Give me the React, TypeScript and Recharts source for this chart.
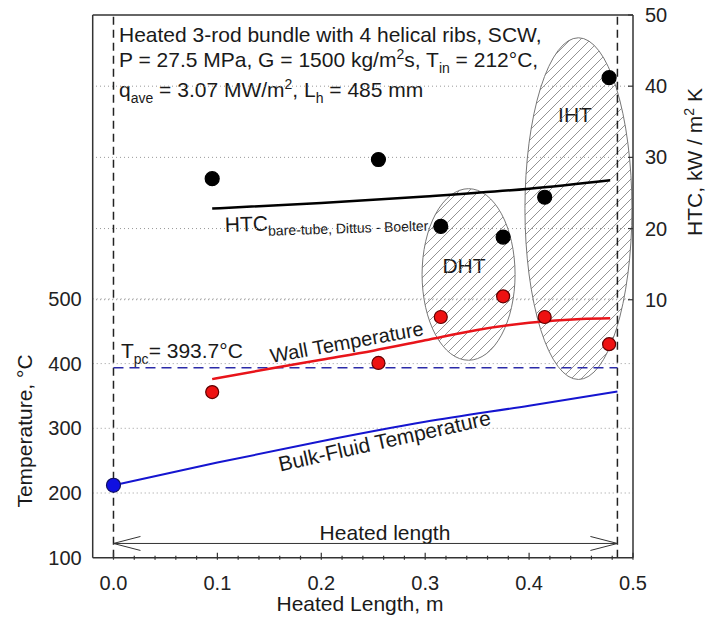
import {
  ComposedChart,
  Line,
  Scatter,
  XAxis,
  YAxis,
  ReferenceLine,
  ReferenceArea,
  Customized,
} from 'recharts'

const FONT = "'Liberation Sans', Arial, Helvetica, sans-serif"

// thermocouple positions along the heated length, m
const sensorX = [0.095, 0.255, 0.315, 0.375, 0.415, 0.477]
const htcMeasured = [27.0, 29.7, 20.3, 18.8, 24.4, 41.2]
const wallMeasured = [356, 401, 472, 504, 472, 430]

const inletX = [0]
const inletT = [212]

const bulkX = [0, 0.1, 0.2, 0.3, 0.4, 0.485]
const bulkT = [212, 247, 280, 310, 335, 357]

const wallLineX = [0.095, 0.15, 0.2, 0.25, 0.3, 0.35, 0.4, 0.45, 0.478]
const wallLineT = [376, 392, 406, 420, 436, 452, 463, 469, 470]

const htcLineX = [0.095, 0.2, 0.3, 0.4, 0.478]
const htcLineV = [22.8, 23.6, 24.5, 25.6, 26.8]

const xTicks = [
  0, 0.02, 0.04, 0.06, 0.08, 0.1, 0.12, 0.14, 0.16, 0.18, 0.2, 0.22, 0.24,
  0.26, 0.28, 0.3, 0.32, 0.34, 0.36, 0.38, 0.4, 0.42, 0.44, 0.46, 0.48, 0.5,
]
const tempTicks = [100, 200, 300, 400, 500]
const htcTicks = [10, 20, 30, 40, 50]

const heatedLength = 0.485
const tPc = 393.7
const arrowT = 122

// deterioration / improvement zones (x in m, y in HTC units)
const zones = [
  { name: 'DHT', x1: 0.297, x2: 0.3865, y1: 1.5, y2: 25.6 },
  { name: 'IHT', x1: 0.396, x2: 0.499, y1: -1.2, y2: 46.8 },
]

const toPts = (xs: number[], ys: number[]) => xs.map((x, i) => ({ x, y: ys[i] }))

const htcPts = toPts(sensorX, htcMeasured)
const wallPts = toPts(sensorX, wallMeasured)
const inletPts = toPts(inletX, inletT)
const bulkPts = toPts(bulkX, bulkT)
const wallLinePts = toPts(wallLineX, wallLineT)
const htcLinePts = toPts(htcLineX, htcLineV)

function XTick(props: any) {
  const { x, y, payload } = props
  const v = payload.value
  const major = Math.abs(v * 10 - Math.round(v * 10)) < 1e-6
  return (
    <g>
      <line x1={x} x2={x} y1={y} y2={y - (major ? 7 : 4)} stroke="#333" strokeWidth={1.2} />
      {major && (
        <text x={x} y={y + 30} textAnchor="middle" fontSize={20} fill="#222" fontFamily={FONT}>
          {v.toFixed(1)}
        </text>
      )}
    </g>
  )
}

function RightTick(props: any) {
  const { x, y, payload } = props
  return (
    <g>
      <line x1={x - 5} x2={x} y1={y} y2={y} stroke="#333" strokeWidth={1.2} />
      <text x={x + 12} y={y} dy="0.35em" fontSize={20} fill="#222" fontFamily={FONT}>
        {payload.value}
      </text>
    </g>
  )
}

const dot = (fill: string, stroke: string, r: number) => (p: any) =>
  <circle cx={p.cx} cy={p.cy} r={r} fill={fill} stroke={stroke} strokeWidth={1.2} />

const ellipse = (p: any) => (
  <ellipse
    cx={p.x + p.width / 2}
    cy={p.y + p.height / 2}
    rx={p.width / 2}
    ry={p.height / 2}
    fill="url(#hatch)"
    stroke="#777"
    strokeWidth={1}
  />
)

const arrow = (p: any) => {
  const { x1, y1, x2, y2 } = p
  return (
    <g stroke="#333" strokeWidth={1} fill="none">
      <line x1={x1} y1={y1} x2={x2} y2={y2} />
      <polyline points={`${x1 + 27},${y1 - 7} ${x1},${y1} ${x1 + 27},${y1 + 7}`} />
      <polyline points={`${x2 - 27},${y2 - 7} ${x2},${y2} ${x2 - 27},${y2 + 7}`} />
    </g>
  )
}

function Annotations() {
  return (
    <g fontFamily={FONT} fill="#1a1a1a">
      <line x1={92.7} x2={633} y1={15} y2={15} stroke="#333" strokeWidth={1.5} />
      <text x={119} y={42} fontSize={21}>Heated 3-rod bundle with 4 helical ribs, SCW,</text>
      <text x={119} y={67} fontSize={21}>
        P = 27.5 MPa, G = 1500 kg/m
        <tspan fontSize={14} dy={-8}>2</tspan>
        <tspan dy={8}>s, T</tspan>
        <tspan fontSize={14} dy={6}>in</tspan>
        <tspan dy={-6}> = 212°C,</tspan>
      </text>
      <text x={119} y={97} fontSize={21}>
        q<tspan fontSize={14} dy={6}>ave</tspan>
        <tspan dy={-6}> = 3.07 MW/m</tspan>
        <tspan fontSize={14} dy={-8}>2</tspan>
        <tspan dy={8}>, L</tspan>
        <tspan fontSize={14} dy={6}>h</tspan>
        <tspan dy={-6}> = 485 mm</tspan>
      </text>

      <text x={121} y={358} fontSize={21}>
        T<tspan fontSize={14} dy={6}>pc</tspan>
        <tspan dy={-6}>= 393.7°C</tspan>
      </text>
      <text x={348} y={349} fontSize={20} textAnchor="middle" transform="rotate(-10.3 348 349)">
        Wall Temperature
      </text>
      <text x={386} y={448} fontSize={21} textAnchor="middle" transform="rotate(-12.5 386 448)">
        Bulk-Fluid Temperature
      </text>
      <text x={225} y={232} fontSize={21} transform="rotate(-1.8 225 232)">
        HTC<tspan fontSize={14} dy={5}>bare-tube, Dittus - Boelter</tspan>
      </text>
      <text x={464} y={273} fontSize={21} textAnchor="middle">DHT</text>
      <text x={575} y={122} fontSize={21} textAnchor="middle">IHT</text>
      <text x={385} y={540} fontSize={21} textAnchor="middle">Heated length</text>

      <text x={360} y={611} fontSize={21} textAnchor="middle">Heated Length, m</text>
      <text x={25} y={431} fontSize={21} textAnchor="middle" dy="0.35em" transform="rotate(-90 25 431)">
        Temperature, °C
      </text>
      <text x={695} y={162} fontSize={21} textAnchor="middle" dy="0.35em" transform="rotate(-90 695 162)">
        HTC, kW / m<tspan fontSize={14} dy={-8}>2</tspan>
        <tspan dy={8}> K</tspan>
      </text>
    </g>
  )
}

export default function App() {
  return (
    <div style={{ position: 'absolute', left: 0, top: 0, background: '#fff' }}>
      <ComposedChart width={712} height={622} margin={{ top: 15, right: 19, bottom: 24.3, left: 32.7 }}>
        <defs>
          <pattern id="hatch" patternUnits="userSpaceOnUse" width={10} height={10}>
            <path d="M-1,1 l2,-2 M0,10 l10,-10 M9,11 l2,-2" stroke="#777" strokeWidth={0.8} />
          </pattern>
        </defs>

        <XAxis
          type="number"
          dataKey="x"
          domain={[-0.02, 0.5]}
          ticks={xTicks}
          interval={0}
          tick={<XTick />}
          tickSize={0}
          tickLine={false}
          height={40}
          allowDataOverflow
          axisLine={{ stroke: '#333', strokeWidth: 1.5 }}
        />
        <YAxis
          yAxisId="t"
          dataKey="y"
          type="number"
          domain={[100, 938.8]}
          ticks={tempTicks}
          interval={0}
          width={60}
          tickSize={0}
          tickMargin={11}
          tickLine={false}
          allowDataOverflow
          tick={{ fontSize: 20, fill: '#222', fontFamily: FONT }}
          axisLine={{ stroke: '#333', strokeWidth: 1.5 }}
        />
        <YAxis
          yAxisId="h"
          orientation="right"
          dataKey="y"
          type="number"
          domain={[-26.24, 50]}
          ticks={htcTicks}
          interval={0}
          width={60}
          tickSize={0}
          tickMargin={0}
          tickLine={false}
          allowDataOverflow
          tick={<RightTick />}
          axisLine={{ stroke: '#333', strokeWidth: 1.5 }}
        />

        {tempTicks.filter((v) => v > 100).map((v) => (
          <ReferenceLine key={`gt${v}`} yAxisId="t" y={v} stroke="#999" strokeDasharray="1 3" strokeWidth={1} />
        ))}
        {htcTicks.filter((v) => v < 50).map((v) => (
          <ReferenceLine key={`gh${v}`} yAxisId="h" y={v} stroke="#999" strokeDasharray="1 3" strokeWidth={1} />
        ))}

        {zones.map((z) => (
          <ReferenceArea key={z.name} yAxisId="h" x1={z.x1} x2={z.x2} y1={z.y1} y2={z.y2} shape={ellipse} />
        ))}

        <ReferenceLine yAxisId="t" x={0} stroke="#222" strokeDasharray="8 5" strokeWidth={1.5} />
        <ReferenceLine yAxisId="t" x={heatedLength} stroke="#222" strokeDasharray="8 5" strokeWidth={1.5} />
        <ReferenceLine
          yAxisId="t"
          segment={[{ x: 0, y: tPc }, { x: heatedLength, y: tPc }]}
          stroke="#2b2ba8"
          strokeDasharray="10 6"
          strokeWidth={1.5}
        />
        <ReferenceLine
          yAxisId="t"
          segment={[{ x: 0, y: arrowT }, { x: heatedLength, y: arrowT }]}
          shape={arrow}
        />

        <Line
          yAxisId="t"
          data={bulkPts}
          dataKey="y"
          type="monotone"
          stroke="#1515d0"
          strokeWidth={2}
          dot={false}
          activeDot={false}
          isAnimationActive={false}
        />
        <Line
          yAxisId="t"
          data={wallLinePts}
          dataKey="y"
          type="monotone"
          stroke="#e8141a"
          strokeWidth={2.5}
          dot={false}
          activeDot={false}
          isAnimationActive={false}
        />
        <Line
          yAxisId="h"
          data={htcLinePts}
          dataKey="y"
          type="monotone"
          stroke="#000"
          strokeWidth={2.5}
          dot={false}
          activeDot={false}
          isAnimationActive={false}
        />

        <Scatter yAxisId="t" data={inletPts} dataKey="y" shape={dot('#1010e0', '#101060', 7)} isAnimationActive={false} />
        <Scatter yAxisId="t" data={wallPts} dataKey="y" shape={dot('#ee1111', '#600000', 6.5)} isAnimationActive={false} />
        <Scatter yAxisId="h" data={htcPts} dataKey="y" shape={dot('#000', '#000', 7)} isAnimationActive={false} />

        <Customized component={Annotations} />
      </ComposedChart>
    </div>
  )
}
